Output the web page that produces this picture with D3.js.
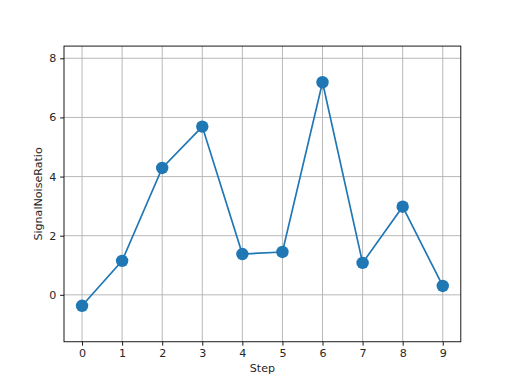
<!DOCTYPE html>
<html><head><meta charset="utf-8">
<script src="https://cdn.jsdelivr.net/npm/d3@7"></script>
<style>body{margin:0;background:#fff}svg{display:block}text{font-family:"DejaVu Sans",sans-serif;fill:#262626}</style>
</head><body>
<script>
const steps = [0,1,2,3,4,5,6,7,8,9];
const snr = [-0.37,1.15,4.29,5.69,1.38,1.45,7.19,1.08,2.98,0.30];
const xTicks = [0,1,2,3,4,5,6,7,8,9];
const yTicks = [0,2,4,6,8];
const xLabel = "Step", yLabel = "SignalNoiseRatio";

const W=512,H=384, L=64, R=460.8, T=46.08, B=341.76;
const svg=d3.select("body").append("svg").attr("width",W).attr("height",H);
const x=d3.scaleLinear().domain([-0.45,9.45]).range([L,R]);
const y=d3.scaleLinear().domain([-1.587,8.413]).range([B,T]);

const g=svg.append("g");
g.selectAll(".gx").data(xTicks).join("line").attr("x1",d=>x(d)).attr("x2",d=>x(d)).attr("y1",T).attr("y2",B).attr("stroke","#b0b0b0").attr("stroke-width",0.9);
g.selectAll(".gy").data(yTicks).join("line").attr("y1",d=>y(d)).attr("y2",d=>y(d)).attr("x1",L).attr("x2",R).attr("stroke","#b0b0b0").attr("stroke-width",0.9);

const xa=svg.append("g").attr("transform",`translate(0,${B})`).call(d3.axisBottom(x).tickValues(xTicks).tickSize(3.9).tickPadding(3.9).tickFormat(d3.format("d")));
const ya=svg.append("g").attr("transform",`translate(${L},0)`).call(d3.axisLeft(y).tickValues(yTicks).tickSize(3.9).tickPadding(3.9).tickFormat(d3.format("d")));
[xa,ya].forEach(a=>{a.select(".domain").remove();a.selectAll("text").attr("font-size",11.1).attr("font-family","DejaVu Sans").attr("fill","#262626");a.selectAll("line").attr("stroke","#000").attr("stroke-width",0.9);});

const line=d3.line().x((d,i)=>x(steps[i])).y(d=>y(d));
svg.append("path").datum(snr).attr("d",line).attr("fill","none").attr("stroke","#1f77b4").attr("stroke-width",1.67);
svg.selectAll(".pt").data(snr).join("circle").attr("cx",(d,i)=>x(steps[i])).attr("cy",d=>y(d)).attr("r",6.2).attr("fill","#1f77b4");

svg.append("rect").attr("x",L).attr("y",T).attr("width",R-L).attr("height",B-T).attr("fill","none").attr("stroke","#000").attr("stroke-width",0.9);

svg.append("text").attr("x",(L+R)/2).attr("y",372).attr("text-anchor","middle").attr("font-size",11.1).text(xLabel);
svg.append("text").attr("transform",`translate(42,${(T+B)/2}) rotate(-90)`).attr("text-anchor","middle").attr("font-size",11.1).text(yLabel);
</script>
</body></html>
